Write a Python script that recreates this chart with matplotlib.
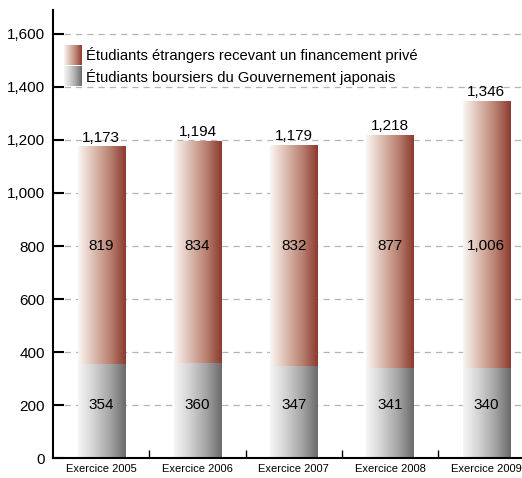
import matplotlib as mpl
mpl.use('Agg')
import matplotlib.pyplot as plt
import numpy as np
from matplotlib.colors import LinearSegmentedColormap
from matplotlib.legend_handler import HandlerBase
from matplotlib.image import BboxImage
from matplotlib.transforms import Bbox, TransformedBbox
from matplotlib.patches import Patch

plt.rcParams['font.family'] = ['Liberation Sans', 'DejaVu Sans']

# data
years = ['Exercice 2005', 'Exercice 2006', 'Exercice 2007', 'Exercice 2008', 'Exercice 2009']
gov = [354, 360, 347, 341, 340]
private = [819, 834, 832, 877, 1006]
totals = [1173, 1194, 1179, 1218, 1346]
series_labels = ['Étudiants étrangers recevant un financement privé',
                 'Étudiants boursiers du Gouvernement japonais']

red_cmap = LinearSegmentedColormap.from_list(
    'red', ['#fbf6f3', '#dcbcb0', '#b98272', '#8c3a2f'])
gray_cmap = LinearSegmentedColormap.from_list(
    'gray', ['#f6f6f6', '#d2d2d2', '#a5a5a5', '#6a6a6a'])
grad = np.linspace(0, 1, 256).reshape(1, -1)


class GradientHandler(HandlerBase):
    def __init__(self, cmap):
        super().__init__()
        self.cmap = cmap

    def create_artists(self, legend, orig_handle, xdescent, ydescent,
                       width, height, fontsize, trans):
        bb = Bbox.from_bounds(-xdescent, -ydescent - 2, width, height + 4)
        im = BboxImage(TransformedBbox(bb, trans), cmap=self.cmap,
                       interpolation='bilinear')
        im.set_data(grad)
        return [im]


fig = plt.figure(figsize=(5.22, 4.78), dpi=100)
ax = fig.add_axes([0.1015, 0.0418, 0.8985, 0.937])

x = np.arange(len(years))
w = 0.49
for i in x:
    ax.imshow(grad, cmap=gray_cmap, aspect='auto', interpolation='bilinear',
              extent=[i - w / 2, i + w / 2, 0, gov[i]], zorder=2)
    ax.imshow(grad, cmap=red_cmap, aspect='auto', interpolation='bilinear',
              extent=[i - w / 2, i + w / 2, gov[i], gov[i] + private[i]], zorder=2)
    ax.text(i, 200, f'{gov[i]:,}', ha='center', va='center', fontsize=11, zorder=3)
    ax.text(i, 800, f'{private[i]:,}', ha='center', va='center', fontsize=11, zorder=3)
    ax.text(i, totals[i] + 8, f'{totals[i]:,}', ha='center', va='bottom',
            fontsize=11, zorder=3)

ax.set_xlim(-0.5, 4.37)
ax.set_ylim(0, 1690)
ax.set_yticks(range(0, 1601, 200))
ax.set_yticklabels([f'{v:,}' for v in range(0, 1601, 200)], fontsize=11)
ax.yaxis.grid(True, linestyle=(0, (5, 4)), color='#b4b4b4', linewidth=0.9)
ax.set_axisbelow(True)

ax.set_xticks(x[:-1] + 0.5)
ax.set_xticklabels([])
ax.set_xticks(x, minor=True)
ax.set_xticklabels(years, minor=True, fontsize=8)
ax.tick_params(axis='x', which='minor', length=0, pad=4)
ax.tick_params(axis='x', which='major', direction='in', length=6, width=1)
ax.tick_params(axis='y', direction='in', length=8, width=1.5, pad=6)

for s in ['top', 'right']:
    ax.spines[s].set_visible(False)
ax.spines['left'].set_linewidth(1.5)
ax.spines['bottom'].set_linewidth(1.5)

handles = [Patch(), Patch()]
leg = ax.legend(handles, series_labels,
                handler_map={handles[0]: GradientHandler(red_cmap),
                             handles[1]: GradientHandler(gray_cmap)},
                loc='upper left', bbox_to_anchor=(0.01, 0.93), frameon=False,
                fontsize=10.6, handlelength=1.2, handleheight=1.1,
                handletextpad=0.35, labelspacing=0.35, borderaxespad=0)

fig.savefig('out.png', dpi=100)
